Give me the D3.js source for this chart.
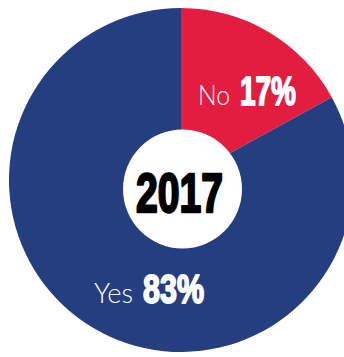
<!DOCTYPE html>
<html>
<head>
<meta charset="utf-8">
<script src="https://cdn.jsdelivr.net/npm/d3@7/dist/d3.min.js"></script>
<style>
  html, body { margin: 0; padding: 0; background: #ffffff; }
  svg { display: block; }
</style>
</head>
<body>
<div id="chart"></div>
<script>
// Survey answers for the year shown in the centre
const year = "2017";
const answers = ["No", "Yes"];
const shares = [17, 83];
const sliceColors = ["#e31d40", "#253e7f"];

const width = 344, height = 357;
const cx = 181, cy = 180, radius = 172;

const svg = d3.select("#chart").append("svg")
  .attr("width", width).attr("height", height);

const pie = d3.pie().sort(null).value(d => d.value);
const arcs = pie(answers.map((a, i) => ({ label: a, value: shares[i] })));
const arc = d3.arc().innerRadius(0).outerRadius(radius);
const color = d3.scaleOrdinal().domain(answers).range(sliceColors);

const g = svg.append("g").attr("transform", `translate(${cx},${cy})`);
g.selectAll("path").data(arcs).join("path")
  .attr("d", arc)
  .attr("fill", d => color(d.data.label));

// White hub with the year
svg.append("circle")
  .attr("cx", 182.5).attr("cy", 189).attr("r", 59.5)
  .attr("fill", "#ffffff");

const heavy = "'Liberation Sans Narrow', 'Liberation Sans', Arial, sans-serif";
const light = "Lato, 'Open Sans', 'Liberation Sans', sans-serif";

// Text sized to fit a box: left x, baseline y, width, font size
function fitText(text, x, y, w, size, family, weight, fill, stroke) {
  const t = svg.append("text")
    .attr("x", x).attr("y", y)
    .attr("font-family", family)
    .attr("font-weight", weight)
    .attr("font-size", size)
    .attr("fill", fill)
    .attr("textLength", w)
    .attr("lengthAdjust", "spacingAndGlyphs")
    .text(text);
  if (stroke) t.attr("stroke", fill).attr("stroke-width", stroke).attr("stroke-linejoin", "round");
  return t;
}

fitText(year, 136, 212, 87, 55, heavy, 700, "#000000", 2.4);

// Slice labels: answer name + share
const labelPos = {
  No:  { nameX: 198, nameW: 32, pctX: 240, pctW: 56, y: 105 },
  Yes: { nameX: 94,  nameW: 39, pctX: 143, pctW: 61, y: 303 }
};
arcs.forEach(d => {
  const p = labelPos[d.data.label];
  fitText(d.data.label, p.nameX, p.y, p.nameW, 26.5, light, 300, "#ffffff", 0);
  fitText(d.data.value + "%", p.pctX, p.y, p.pctW, 40, heavy, 700, "#ffffff", 1.8);
});
</script>
</body>
</html>
